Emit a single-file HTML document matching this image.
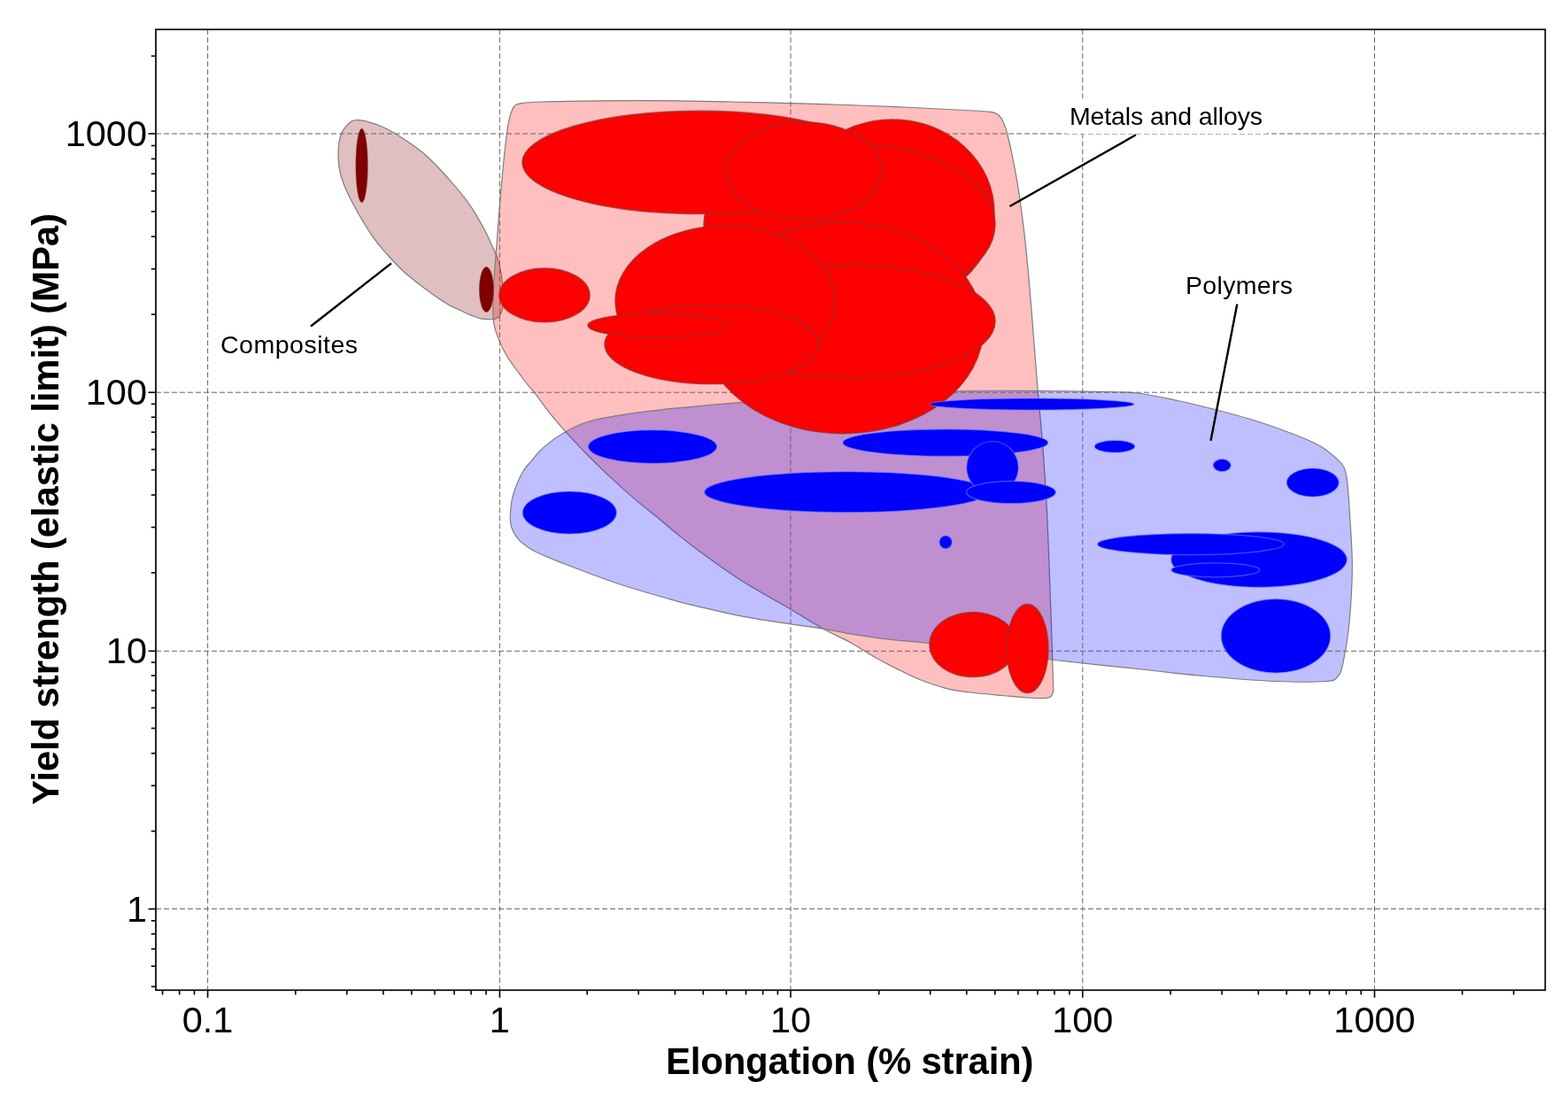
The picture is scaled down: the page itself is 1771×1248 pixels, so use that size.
<!DOCTYPE html>
<html lang="en"><head><meta charset="utf-8"><title>Yield strength vs Elongation</title>
<style>
html,body{margin:0;padding:0;background:#fff;}
body{width:1771px;height:1248px;overflow:hidden;font-family:"Liberation Sans",Arial,sans-serif;}
svg{display:block;}
text{font-family:"Liberation Sans",Arial,sans-serif;fill:#000;}
.tick{font-size:41.5px;}
.lab{font-size:28.5px;}
.title{font-size:42px;font-weight:bold;}
.grid line{stroke:#666;stroke-width:1;stroke-dasharray:6 3;}
.ticks line{stroke:#000;stroke-width:1.6;}
.red ellipse{fill:#fe0000;stroke:rgba(150,45,40,0.75);stroke-width:1.6;}
.blue ellipse{fill:#0000fe;stroke:rgba(110,130,240,0.6);stroke-width:1.2;}
.dred ellipse{fill:#800000;stroke:rgba(120,60,60,0.6);stroke-width:1;}
.env{stroke:#7d7d7d;stroke-width:1.2;}
.lead line{stroke:#000;stroke-width:2.4;}
</style></head><body>
<svg width="1771" height="1248" viewBox="0 0 1771 1248" role="img" aria-label="Yield strength versus elongation chart">
<rect x="0" y="0" width="1771" height="1248" fill="#fff"/>
<path class="env" fill="rgba(128,0,0,0.25)" d="M405.7,135.6 C412.1,136.2 423.6,139.7 432.0,143.3 C440.4,146.9 448.0,151.8 456.0,157.0 C464.0,162.2 471.8,167.3 480.0,174.5 C488.2,181.7 496.8,190.8 505.0,200.0 C513.2,209.2 522.7,220.3 529.5,229.8 C536.3,239.3 541.6,249.0 546.0,257.0 C550.4,265.0 553.2,272.0 556.0,278.0 C558.8,284.0 560.8,287.3 562.5,293.0 C564.2,298.7 565.6,306.1 566.5,312.0 C567.4,317.9 567.8,322.8 568.1,328.1 C568.4,333.5 568.5,339.7 568.1,344.1 C567.7,348.5 566.8,352.0 565.7,354.5 C564.6,357.0 563.3,358.3 561.7,359.3 C560.1,360.3 559.0,360.4 556.0,360.5 C553.0,360.6 548.0,360.8 544.0,360.1 C540.0,359.4 536.0,357.7 532.0,356.1 C528.0,354.5 524.6,352.7 520.0,350.5 C515.4,348.3 510.9,346.9 504.2,342.8 C497.5,338.7 488.0,332.0 480.0,326.0 C472.0,320.0 463.2,313.2 456.0,306.7 C448.8,300.2 443.0,293.8 437.0,287.0 C431.0,280.2 426.8,276.2 420.0,265.9 C413.2,255.6 401.8,236.3 396.0,225.0 C390.2,213.7 387.3,206.0 385.0,198.0 C382.7,190.0 382.1,184.3 382.0,177.0 C381.9,169.7 382.6,160.2 384.5,154.0 C386.4,147.8 390.2,142.8 393.7,139.7 C397.2,136.6 399.3,135.0 405.7,135.6Z"/>
<path class="env" fill="rgba(255,0,0,0.25)" d="M578.5,124.0 C579.7,121.2 580.4,120.2 582.0,119.0 C583.6,117.8 583.0,117.5 588.0,116.8 C593.0,116.1 596.3,115.5 612.0,115.0 C627.7,114.5 657.3,114.0 682.0,113.8 C706.7,113.6 733.7,113.5 760.0,113.8 C786.3,114.0 813.3,114.7 840.0,115.3 C866.7,115.9 890.0,116.3 920.0,117.3 C950.0,118.2 990.0,119.7 1020.0,121.0 C1050.0,122.3 1083.7,124.1 1100.0,125.0 C1116.3,125.9 1113.8,125.8 1118.0,126.3 C1122.2,126.8 1122.9,126.9 1125.0,128.0 C1127.1,129.1 1128.9,130.8 1130.4,132.8 C1131.9,134.8 1132.8,137.1 1134.0,140.0 C1135.2,142.9 1135.7,143.1 1137.4,150.0 C1139.2,156.9 1142.2,169.7 1144.5,181.7 C1146.8,193.7 1149.2,206.0 1151.5,222.2 C1153.8,238.3 1156.3,257.3 1158.6,278.6 C1160.8,299.9 1162.8,323.3 1165.0,350.0 C1167.2,376.7 1169.9,414.0 1172.0,439.0 C1174.1,464.0 1175.6,476.5 1177.4,500.0 C1179.2,523.5 1181.1,550.0 1182.6,580.0 C1184.1,610.0 1185.3,648.3 1186.5,680.0 C1187.7,711.7 1189.0,753.2 1189.5,770.0 C1190.0,786.8 1189.9,778.2 1189.5,781.0 C1189.1,783.8 1188.4,785.2 1187.0,786.5 C1185.6,787.8 1185.5,788.2 1181.0,788.5 C1176.5,788.8 1168.2,788.5 1160.0,788.0 C1151.8,787.5 1142.0,786.4 1132.0,785.5 C1122.0,784.6 1108.7,783.5 1100.0,782.5 C1091.3,781.5 1085.5,780.7 1080.0,779.8 C1074.5,778.9 1073.9,779.1 1067.2,777.1 C1060.5,775.1 1049.1,771.6 1040.1,768.0 C1031.1,764.4 1022.0,759.9 1013.0,755.4 C1004.0,750.9 994.9,746.0 985.9,740.9 C976.9,735.8 968.1,729.8 958.8,724.7 C949.5,719.6 940.8,716.2 929.9,710.2 C919.0,704.2 904.0,694.5 893.7,688.5 C883.5,682.5 878.6,680.1 868.4,674.1 C858.2,668.1 844.3,660.2 832.3,652.4 C820.2,644.6 807.2,635.2 796.1,627.1 C785.0,619.0 774.0,610.5 765.4,603.6 C756.8,596.7 751.3,591.6 744.2,585.7 C737.1,579.8 729.8,574.4 722.6,568.4 C715.4,562.4 708.2,556.1 701.0,549.6 C693.8,543.1 686.5,536.4 679.3,529.4 C672.1,522.4 664.4,514.8 657.7,507.8 C651.0,500.8 644.9,494.3 638.9,487.6 C632.9,480.9 627.4,474.6 621.6,467.4 C615.8,460.2 609.1,450.5 604.3,444.3 C599.4,438.1 598.0,437.4 592.5,430.0 C587.0,422.6 576.8,409.7 571.3,400.0 C565.8,390.3 561.6,379.5 559.2,371.6 C556.8,363.7 557.0,361.6 556.8,352.4 C556.6,343.2 557.2,330.4 558.0,316.3 C558.8,302.2 560.2,286.1 561.6,268.0 C563.0,249.9 564.8,226.0 566.4,208.0 C568.0,190.0 569.9,172.0 571.3,160.0 C572.7,148.0 573.7,142.0 574.9,136.0 C576.1,130.0 577.3,126.8 578.5,124.0Z"/>
<path class="env" fill="rgba(0,0,255,0.25)" d="M576.3,583.6 C576.3,578.5 576.8,571.5 578.0,565.5 C579.2,559.5 581.3,553.1 583.5,547.5 C585.7,541.9 588.2,536.5 591.0,532.0 C593.8,527.5 596.1,525.3 600.0,520.8 C603.9,516.3 607.9,510.4 614.4,504.9 C620.9,499.4 630.5,492.4 638.9,487.6 C647.3,482.8 654.5,479.1 664.9,476.0 C675.2,472.9 687.8,470.9 701.0,468.8 C714.2,466.7 729.8,464.8 744.2,463.1 C758.6,461.4 771.5,460.2 787.5,458.8 C803.5,457.4 812.9,456.3 840.0,454.4 C867.1,452.5 911.2,449.6 950.0,447.5 C988.8,445.4 1034.7,442.8 1073.0,441.8 C1111.3,440.8 1152.2,441.4 1180.0,441.5 C1207.8,441.6 1222.5,441.9 1240.0,442.3 C1257.5,442.7 1269.9,442.3 1285.0,444.0 C1300.1,445.7 1315.3,449.3 1330.4,452.5 C1345.5,455.7 1360.5,459.5 1375.5,463.4 C1390.5,467.3 1405.6,471.2 1420.7,476.0 C1435.8,480.8 1453.9,487.5 1465.9,492.3 C1478.0,497.1 1485.5,500.5 1493.0,505.0 C1500.5,509.5 1506.8,515.5 1511.0,519.4 C1515.2,523.3 1516.5,523.9 1518.3,528.4 C1520.1,532.9 1520.9,537.5 1521.9,546.5 C1523.0,555.5 1523.7,567.0 1524.6,582.6 C1525.5,598.2 1527.4,619.9 1527.3,640.0 C1527.2,660.1 1525.7,684.9 1524.0,703.0 C1522.3,721.1 1519.2,738.4 1517.0,748.6 C1514.8,758.8 1514.2,760.5 1511.0,764.0 C1507.8,767.5 1509.7,768.6 1498.0,769.5 C1486.3,770.4 1463.2,770.4 1441.0,769.5 C1418.8,768.6 1390.2,766.2 1365.0,764.0 C1339.8,761.8 1319.2,759.2 1289.5,756.0 C1259.8,752.8 1215.2,748.3 1187.0,745.0 C1158.8,741.7 1143.0,739.1 1120.0,736.0 C1097.0,732.9 1063.9,728.4 1049.1,726.5 C1034.3,724.6 1040.0,725.6 1031.0,724.7 C1022.0,723.8 1006.9,722.6 994.9,721.1 C982.9,719.6 969.6,717.4 958.8,715.6 C948.0,713.8 940.8,712.0 929.9,710.2 C919.0,708.4 904.0,706.3 893.7,704.8 C883.5,703.3 878.6,702.9 868.4,701.2 C858.2,699.6 844.3,697.3 832.3,694.9 C820.2,692.5 808.1,689.6 796.1,686.7 C784.1,683.8 776.4,682.3 760.0,677.7 C743.6,673.1 717.9,665.8 697.6,659.0 C677.3,652.2 653.4,643.0 638.0,637.0 C622.6,631.0 613.7,627.7 605.2,623.3 C596.7,618.9 591.5,615.2 587.0,610.7 C582.5,606.2 579.8,600.7 578.0,596.2 C576.2,591.7 576.3,588.7 576.3,583.6Z"/>
<g class="grid">
<line x1="234.6" y1="33.3" x2="234.6" y2="1118.3"/>
<line x1="564.4" y1="33.3" x2="564.4" y2="1118.3"/>
<line x1="893.0" y1="33.3" x2="893.0" y2="1118.3"/>
<line x1="1222.8" y1="33.3" x2="1222.8" y2="1118.3"/>
<line x1="1552.5" y1="33.3" x2="1552.5" y2="1118.3"/>
<line x1="176.0" y1="1026.6" x2="1745.3" y2="1026.6"/>
<line x1="176.0" y1="735.3" x2="1745.3" y2="735.3"/>
<line x1="176.0" y1="443.2" x2="1745.3" y2="443.2"/>
<line x1="176.0" y1="151.0" x2="1745.3" y2="151.0"/>
</g>
<g class="dred">
<ellipse cx="408.6" cy="187.0" rx="6.7" ry="41.7"/>
<ellipse cx="549.4" cy="327.0" rx="8.0" ry="25.5"/>
</g>
<g class="red">
<ellipse cx="615.0" cy="333.4" rx="51.0" ry="30.3"/>
<ellipse cx="1008.0" cy="240.0" rx="115.0" ry="105.0"/>
<ellipse cx="959.5" cy="253.0" rx="164.5" ry="91.0"/>
<ellipse cx="952.0" cy="370.5" rx="158.5" ry="119.1"/>
<ellipse cx="959.5" cy="363.0" rx="164.5" ry="63.5"/>
<ellipse cx="819.0" cy="340.0" rx="124.0" ry="85.0"/>
<ellipse cx="804.0" cy="389.0" rx="121.0" ry="44.5"/>
<ellipse cx="743.0" cy="367.5" rx="79.0" ry="13.5"/>
<ellipse cx="790.0" cy="183.4" rx="200.0" ry="58.0"/>
<ellipse cx="907.8" cy="193.0" rx="87.5" ry="55.0"/>
<ellipse cx="1099.0" cy="728.0" rx="49.0" ry="36.5"/>
<ellipse cx="1160.5" cy="732.6" rx="23.4" ry="50.0"/>
</g>
<g class="blue">
<ellipse cx="737.0" cy="504.5" rx="72.7" ry="18.8"/>
<ellipse cx="643.3" cy="579.0" rx="53.0" ry="24.0"/>
<ellipse cx="956.0" cy="555.7" rx="160.5" ry="23.0"/>
<ellipse cx="1067.8" cy="500.0" rx="116.0" ry="15.2"/>
<ellipse cx="1165.6" cy="456.5" rx="115.4" ry="6.5"/>
<ellipse cx="1121.0" cy="528.0" rx="29.3" ry="29.5"/>
<ellipse cx="1142.0" cy="556.0" rx="50.4" ry="12.6"/>
<ellipse cx="1068.1" cy="612.3" rx="7.2" ry="7.4"/>
<ellipse cx="1259.0" cy="504.2" rx="22.7" ry="6.8"/>
<ellipse cx="1380.2" cy="525.6" rx="10.0" ry="7.0"/>
<ellipse cx="1482.7" cy="545.0" rx="29.5" ry="16.0"/>
<ellipse cx="1422.0" cy="632.0" rx="99.3" ry="31.2"/>
<ellipse cx="1345.0" cy="614.6" rx="105.5" ry="12.0"/>
<ellipse cx="1372.8" cy="643.8" rx="50.0" ry="8.0"/>
<ellipse cx="1441.0" cy="718.3" rx="61.7" ry="41.7"/>
</g>
<rect x="176.0" y="33.3" width="1569.3" height="1085.0" fill="none" stroke="#000" stroke-width="1.7"/>
<g class="ticks">
<line x1="183.6" y1="1118.3" x2="183.6" y2="1123.5"/>
<line x1="202.7" y1="1118.3" x2="202.7" y2="1123.5"/>
<line x1="219.5" y1="1118.3" x2="219.5" y2="1123.5"/>
<line x1="234.6" y1="1118.3" x2="234.6" y2="1126.8"/>
<line x1="333.8" y1="1118.3" x2="333.8" y2="1123.5"/>
<line x1="391.8" y1="1118.3" x2="391.8" y2="1123.5"/>
<line x1="432.9" y1="1118.3" x2="432.9" y2="1123.5"/>
<line x1="464.9" y1="1118.3" x2="464.9" y2="1123.5"/>
<line x1="491.0" y1="1118.3" x2="491.0" y2="1123.5"/>
<line x1="513.0" y1="1118.3" x2="513.0" y2="1123.5"/>
<line x1="532.1" y1="1118.3" x2="532.1" y2="1123.5"/>
<line x1="549.0" y1="1118.3" x2="549.0" y2="1123.5"/>
<line x1="564.4" y1="1118.3" x2="564.4" y2="1126.8"/>
<line x1="663.2" y1="1118.3" x2="663.2" y2="1123.5"/>
<line x1="721.2" y1="1118.3" x2="721.2" y2="1123.5"/>
<line x1="762.4" y1="1118.3" x2="762.4" y2="1123.5"/>
<line x1="794.3" y1="1118.3" x2="794.3" y2="1123.5"/>
<line x1="820.4" y1="1118.3" x2="820.4" y2="1123.5"/>
<line x1="842.5" y1="1118.3" x2="842.5" y2="1123.5"/>
<line x1="861.6" y1="1118.3" x2="861.6" y2="1123.5"/>
<line x1="878.4" y1="1118.3" x2="878.4" y2="1123.5"/>
<line x1="893.0" y1="1118.3" x2="893.0" y2="1126.8"/>
<line x1="992.7" y1="1118.3" x2="992.7" y2="1123.5"/>
<line x1="1050.7" y1="1118.3" x2="1050.7" y2="1123.5"/>
<line x1="1091.8" y1="1118.3" x2="1091.8" y2="1123.5"/>
<line x1="1123.8" y1="1118.3" x2="1123.8" y2="1123.5"/>
<line x1="1149.9" y1="1118.3" x2="1149.9" y2="1123.5"/>
<line x1="1171.9" y1="1118.3" x2="1171.9" y2="1123.5"/>
<line x1="1191.0" y1="1118.3" x2="1191.0" y2="1123.5"/>
<line x1="1207.9" y1="1118.3" x2="1207.9" y2="1123.5"/>
<line x1="1222.8" y1="1118.3" x2="1222.8" y2="1126.8"/>
<line x1="1322.1" y1="1118.3" x2="1322.1" y2="1123.5"/>
<line x1="1380.1" y1="1118.3" x2="1380.1" y2="1123.5"/>
<line x1="1421.3" y1="1118.3" x2="1421.3" y2="1123.5"/>
<line x1="1453.2" y1="1118.3" x2="1453.2" y2="1123.5"/>
<line x1="1479.3" y1="1118.3" x2="1479.3" y2="1123.5"/>
<line x1="1501.4" y1="1118.3" x2="1501.4" y2="1123.5"/>
<line x1="1520.5" y1="1118.3" x2="1520.5" y2="1123.5"/>
<line x1="1537.3" y1="1118.3" x2="1537.3" y2="1123.5"/>
<line x1="1552.5" y1="1118.3" x2="1552.5" y2="1126.8"/>
<line x1="1651.6" y1="1118.3" x2="1651.6" y2="1123.5"/>
<line x1="1709.6" y1="1118.3" x2="1709.6" y2="1123.5"/>
<line x1="170.8" y1="1114.3" x2="176.0" y2="1114.3"/>
<line x1="170.8" y1="1091.2" x2="176.0" y2="1091.2"/>
<line x1="170.8" y1="1071.7" x2="176.0" y2="1071.7"/>
<line x1="170.8" y1="1054.8" x2="176.0" y2="1054.8"/>
<line x1="170.8" y1="1039.9" x2="176.0" y2="1039.9"/>
<line x1="167.5" y1="1026.6" x2="176.0" y2="1026.6"/>
<line x1="170.8" y1="938.7" x2="176.0" y2="938.7"/>
<line x1="170.8" y1="887.3" x2="176.0" y2="887.3"/>
<line x1="170.8" y1="850.8" x2="176.0" y2="850.8"/>
<line x1="170.8" y1="822.5" x2="176.0" y2="822.5"/>
<line x1="170.8" y1="799.4" x2="176.0" y2="799.4"/>
<line x1="170.8" y1="779.9" x2="176.0" y2="779.9"/>
<line x1="170.8" y1="763.0" x2="176.0" y2="763.0"/>
<line x1="170.8" y1="748.1" x2="176.0" y2="748.1"/>
<line x1="167.5" y1="735.3" x2="176.0" y2="735.3"/>
<line x1="170.8" y1="646.9" x2="176.0" y2="646.9"/>
<line x1="170.8" y1="595.5" x2="176.0" y2="595.5"/>
<line x1="170.8" y1="559.0" x2="176.0" y2="559.0"/>
<line x1="170.8" y1="530.7" x2="176.0" y2="530.7"/>
<line x1="170.8" y1="507.6" x2="176.0" y2="507.6"/>
<line x1="170.8" y1="488.1" x2="176.0" y2="488.1"/>
<line x1="170.8" y1="471.2" x2="176.0" y2="471.2"/>
<line x1="170.8" y1="456.3" x2="176.0" y2="456.3"/>
<line x1="167.5" y1="443.2" x2="176.0" y2="443.2"/>
<line x1="170.8" y1="355.1" x2="176.0" y2="355.1"/>
<line x1="170.8" y1="303.7" x2="176.0" y2="303.7"/>
<line x1="170.8" y1="267.2" x2="176.0" y2="267.2"/>
<line x1="170.8" y1="238.9" x2="176.0" y2="238.9"/>
<line x1="170.8" y1="215.8" x2="176.0" y2="215.8"/>
<line x1="170.8" y1="196.3" x2="176.0" y2="196.3"/>
<line x1="170.8" y1="179.4" x2="176.0" y2="179.4"/>
<line x1="170.8" y1="164.5" x2="176.0" y2="164.5"/>
<line x1="167.5" y1="151.0" x2="176.0" y2="151.0"/>
<line x1="170.8" y1="63.3" x2="176.0" y2="63.3"/>
</g>
<g class="tick">
<text x="234.6" y="1166.0" text-anchor="middle">0.1</text>
<text x="564.4" y="1166.0" text-anchor="middle">1</text>
<text x="893.0" y="1166.0" text-anchor="middle">10</text>
<text x="1222.8" y="1166.0" text-anchor="middle">100</text>
<text x="1552.5" y="1166.0" text-anchor="middle">1000</text>
<text x="166.0" y="1040.6" text-anchor="end">1</text>
<text x="166.0" y="749.3" text-anchor="end">10</text>
<text x="166.0" y="457.2" text-anchor="end">100</text>
<text x="166.0" y="165.0" text-anchor="end">1000</text>
</g>
<text class="title" x="752.0" y="1212.6" textLength="415.5" lengthAdjust="spacing">Elongation (% strain)</text>
<text class="title" transform="translate(65.8,909.0) rotate(-90)" textLength="668.0" lengthAdjust="spacing">Yield strength (elastic limit) (MPa)</text>
<rect x="1203.7" y="113" width="227" height="38" fill="#fff"/>
<g class="lead">
<line x1="1283" y1="152.3" x2="1140.5" y2="233"/>
<line x1="1397.3" y1="343.5" x2="1367.5" y2="497.8"/>
<line x1="442" y1="297.4" x2="351" y2="368.5"/>
</g>
<g class="lab">
<text x="1208" y="140.9" textLength="218" lengthAdjust="spacing">Metals and alloys</text>
<text x="1339" y="332" textLength="121" lengthAdjust="spacing">Polymers</text>
<text x="249" y="398.6" textLength="155" lengthAdjust="spacing">Composites</text>
</g>
</svg>
</body></html>
